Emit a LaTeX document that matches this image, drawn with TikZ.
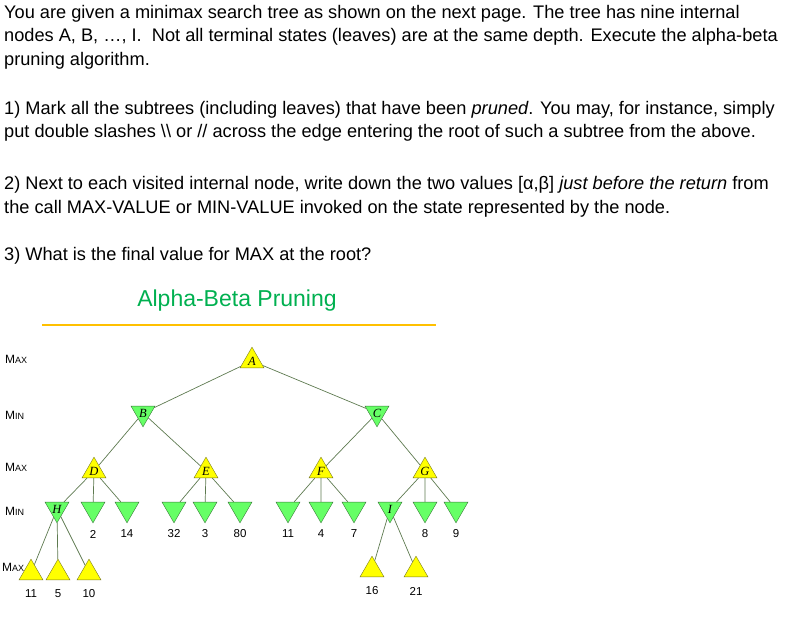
\documentclass[tikz,border=0pt]{standalone}
\usepackage{fontspec}
\setmainfont{Liberation Sans}
\newfontfamily\serifit{Liberation Serif}
\usetikzlibrary{shapes.geometric}
\definecolor{ylw}{HTML}{FFFF00}
\definecolor{ylwb}{HTML}{7A7A20}
\definecolor{grn}{HTML}{66FF66}
\definecolor{grnb}{HTML}{3A7A3A}
\definecolor{edg}{HTML}{5E7A50}
\definecolor{ttl}{HTML}{00B050}
\definecolor{org}{HTML}{FFC000}
\begin{document}
\begin{tikzpicture}[x=1pt,y=-1pt,
  txt/.style={anchor=base west,inner sep=0,font=\fontsize{18.2}{20}\selectfont},
  mx/.style={regular polygon,regular polygon sides=3,minimum size=27.7pt,inner sep=0,fill=ylw,draw=ylwb,font=\serifit\itshape\fontsize{12.5}{12}\selectfont},
  mn/.style={regular polygon,regular polygon sides=3,shape border rotate=180,minimum size=27.7pt,inner sep=0,fill=grn,draw=grnb,font=\serifit\itshape\fontsize{12.5}{12}\selectfont},
  lv/.style={font=\fontsize{11.5}{12}\selectfont,inner sep=0},
  rl/.style={font=\fontsize{12}{12}\selectfont,inner sep=0,anchor=west},
  e/.style={draw=edg,line width=0.7pt}]
\useasboundingbox (0,0) rectangle (789,617);
\node[txt] (t1) at (4,19) {You are given a minimax search tree as shown on the next page. The tree has nine internal};
\node[txt] (t2) at (4,42) {nodes A, B, …, I.\ \ Not all terminal states (leaves) are at the same depth. Execute the alpha-beta};
\node[txt] (t3) at (4,66) {pruning algorithm.};
\node[txt] (t4) at (4,115) {1) Mark all the subtrees (including leaves) that have been \textit{pruned}. You may, for instance, simply};
\node[txt] (t5) at (4,138) {put double slashes \textbackslash\textbackslash\ or // across the edge entering the root of such a subtree from the above.};
\node[txt] (t6) at (4,190) {2) Next to each visited internal node, write down the two values [α,β] \textit{just before the return} from};
\node[txt] (t7) at (4,214) {the call MAX-VALUE or MIN-VALUE invoked on the state represented by the node.};
\node[txt] (t8) at (4,261) {3) What is the final value for MAX at the root?};
\node[font=\fontsize{23}{25}\selectfont,text=ttl,inner sep=0] (title) at (237,301) {Alpha-Beta Pruning};
\draw[org,line width=2pt] (42,325) -- (436,325);
% row labels
\node[rl] (r1) at (5,359) {M\fontsize{9}{9}\selectfont AX};
\node[rl] (r2) at (5,415) {M\fontsize{9}{9}\selectfont IN};
\node[rl] (r3) at (5,467) {M\fontsize{9}{9}\selectfont AX};
\node[rl] (r4) at (5,511) {M\fontsize{9}{9}\selectfont IN};
\node[rl] (r5) at (2,567) {M\fontsize{9}{9}\selectfont AX};
% tree
\node[mx] (A) at (252,361) {A};
\node[mn] (B) at (143,413) {B};
\node[mn] (C) at (377,413) {C};
\node[mx] (D) at (94,471) {D};
\node[mx] (E) at (206,471) {E};
\node[mx] (F) at (321,471) {F};
\node[mx] (G) at (425,471) {G};
\node[mn] (H) at (57,509) {H};
\node[mn] (d2) at (93,509) {};
\node[mn] (d3) at (127,509) {};
\node[mn] (e1) at (174,509) {};
\node[mn] (e2) at (205,509) {};
\node[mn] (e3) at (240,509) {};
\node[mn] (f1) at (288,509) {};
\node[mn] (f2) at (321,509) {};
\node[mn] (f3) at (354,509) {};
\node[mn] (I) at (390,509) {I};
\node[mn] (g2) at (425,509) {};
\node[mn] (g3) at (456,509) {};
\node[mx] (h1) at (31,573) {};
\node[mx] (h2) at (58,573) {};
\node[mx] (h3) at (89,573) {};
\node[mx] (i1) at (372,570) {};
\node[mx] (i2) at (416,570) {};
\foreach \a/\b in {A/B,A/C,B/D,B/E,C/F,C/G,D/H,D/d2,D/d3,E/e1,E/e2,E/e3,F/f1,F/f2,F/f3,G/I,G/g2,G/g3,H/h1,H/h2,H/h3,I/i1,I/i2}
  \draw[e] (\a) -- (\b);
\foreach \n/\v in {d2/2,d3/14,e1/32,e2/3,e3/80,f1/11,f2/4,f3/7,g2/8,g3/9}
  \node[lv] (l\n) at ([yshift=-25pt]\n.center) {\v};
\foreach \n/\v in {h1/11,h2/5,h3/10,i1/16,i2/21}
  \node[lv] (l\n) at ([yshift=-21pt]\n.center) {\v};
\end{tikzpicture}
\end{document}
